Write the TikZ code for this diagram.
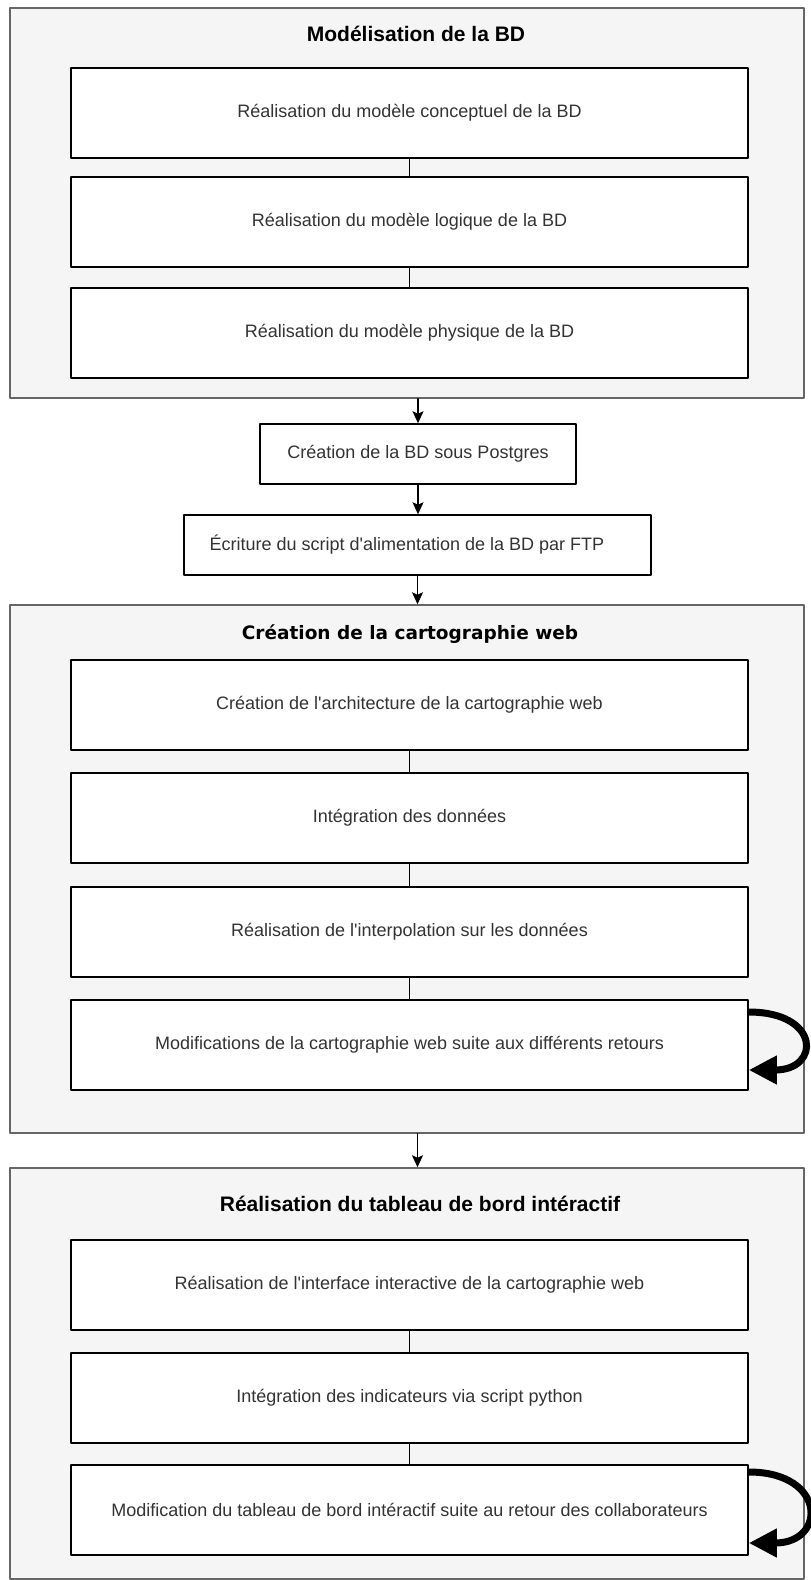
\documentclass[tikz,border=0pt]{standalone}
\usepackage{fontspec}
\setmainfont{Liberation Sans}
\newfontfamily\cartofont{DejaVu Sans}
\usetikzlibrary{arrows.meta}
\usepackage{xcolor}
\definecolor{grpfill}{RGB}{245,245,245}
\definecolor{grpline}{RGB}{102,102,102}
\definecolor{txtgray}{RGB}{51,51,51}

\begin{document}
\begin{tikzpicture}[x=1pt,y=-1pt,line width=1.5pt,line cap=round,line join=round,
  grp/.style={draw=grpline,fill=grpfill,minimum width=794pt,inner sep=0pt},
  stepbox/.style={draw=black,fill=white,inner sep=0pt,minimum width=677pt,minimum height=90pt,
    text=txtgray,font=\fontsize{18}{22}\selectfont},
  grptitle/.style={inner sep=0pt,text=black,font=\fontsize{21}{25}\selectfont\bfseries},
  link/.style={draw=black},
  flow/.style={draw=black,-{Stealth[length=12pt,width=11pt,inset=2.5pt]}},
  retour/.style={draw=black,line width=7pt,line cap=butt,-{Triangle[length=28pt,width=27pt]}}]
  \path[use as bounding box] (0,0) rectangle (811,1580);

  % groups (grey frames)
  \node[grp,minimum height=390pt] (grpbd) at (407,203) {};
  \node[grp,minimum height=528pt] (grpcarto) at (407,869) {};
  \node[grp,minimum height=411pt] (grptdb) at (407,1373.5) {};

  \node[grptitle] (tbd) at (416,34) {Modélisation de la BD};
  \node[grptitle,font=\cartofont\fontsize{18.5}{22}\selectfont\bfseries] (tcarto) at (410,634) {Création de la cartographie web};
  \node[grptitle] (ttdb) at (420,1204) {Réalisation du tableau de bord intéractif};

  % Modelisation de la BD
  \node[stepbox] (conc) at (409.5,113) {Réalisation du modèle conceptuel de la BD};
  \node[stepbox] (logi) at (409.5,222) {Réalisation du modèle logique de la BD};
  \node[stepbox] (phys) at (409.5,333) {Réalisation du modèle physique de la BD};

  % steps between the groups
  \node[stepbox,minimum width=316pt,minimum height=60pt] (pg) at (418,454) {Création de la BD sous Postgres};
  \node[stepbox,minimum width=467pt,minimum height=60pt] (ftp) at (417.5,545)
    {Écriture du script d\textquotesingle alimentation de la BD par FTP\hspace*{21pt}};

  % cartographie web
  \node[stepbox] (archi) at (409.5,705) {Création de l\textquotesingle architecture de la cartographie web};
  \node[stepbox] (integ) at (409.5,818) {Intégration des données};
  \node[stepbox] (interp) at (409.5,932) {Réalisation de l\textquotesingle interpolation sur les données};
  \node[stepbox] (retcarto) at (409.5,1045) {Modifications de la cartographie web suite aux différents retours};

  % tableau de bord
  \node[stepbox] (iface) at (409.5,1285) {Réalisation de l\textquotesingle interface interactive de la cartographie web};
  \node[stepbox] (indic) at (409.5,1398) {Intégration des indicateurs via script python};
  \node[stepbox] (rettdb) at (409.5,1510) {Modification du tableau de bord intéractif suite au retour des collaborateurs};

  \draw[link] (conc) -- (logi);
  \draw[link] (logi) -- (phys);
  \draw[link] (archi) -- (integ);
  \draw[link] (integ) -- (interp);
  \draw[link] (interp) -- (retcarto);
  \draw[link] (iface) -- (indic);
  \draw[link] (indic) -- (rettdb);

  \draw[flow] (grpbd.south -| pg.north) -- (pg.north);
  \draw[flow] (pg.south) -- (pg.south |- ftp.north);
  \draw[flow] (ftp.south) -- (ftp.south |- grpcarto.north);
  \draw[flow] (grpcarto.south -| ftp.south) -- (grptdb.north -| ftp.south);

  % feedback loops
  \draw[retour] ([yshift=33pt]retcarto.east) .. controls +(72,0) and +(72,0) .. ([yshift=-25pt]retcarto.east);
  \draw[retour] ([yshift=38pt]rettdb.east) .. controls +(78,0) and +(78,0) .. ([yshift=-33pt]rettdb.east);
\end{tikzpicture}
\end{document}
